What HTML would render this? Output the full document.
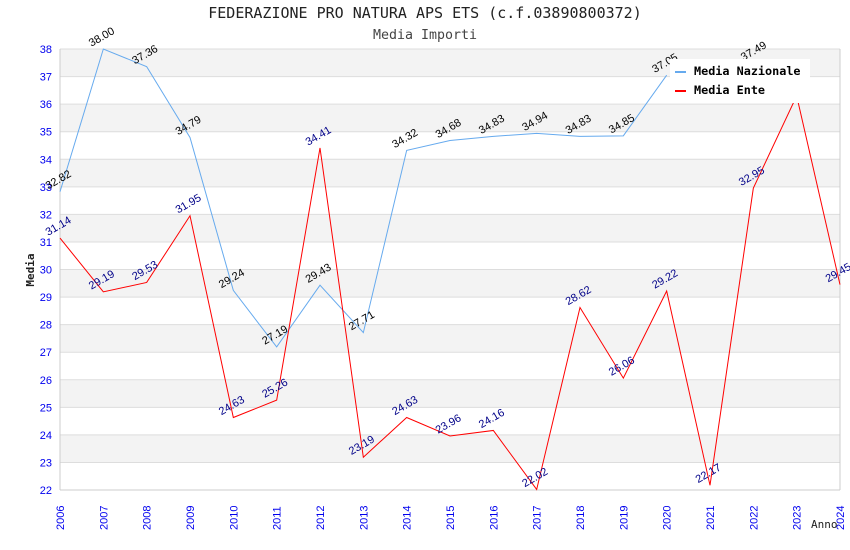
<!DOCTYPE html>
<html><head><meta charset="utf-8"><style>
html,body{margin:0;padding:0;background:#fff;}
svg{display:block;font-family:"DejaVu Sans Mono","Liberation Mono",monospace;}
</style></head><body>
<svg id="chart" width="850" height="550" xmlns="http://www.w3.org/2000/svg">
<text x="425" y="18" text-anchor="middle" font-size="15" fill="#222">FEDERAZIONE PRO NATURA APS ETS (c.f.03890800372)</text>
<text x="425" y="39" text-anchor="middle" font-size="13.3" fill="#444">Media Importi</text>
<g id="grid"></g><g id="lines"></g><g id="labels"></g>
<text transform="translate(34,270) rotate(-90)" text-anchor="middle" font-size="11" font-weight="bold" fill="#222">Media</text>
<text x="811" y="528" font-size="11" fill="#222">Anno</text>
<g>
<rect x="670" y="59" width="140" height="44" fill="#fff"/>
<line x1="675" y1="72" x2="686" y2="72" stroke="#66aaee" stroke-width="2"/>
<text x="694" y="75" font-size="11.8" font-weight="bold" fill="#000">Media Nazionale</text>
<line x1="675" y1="91" x2="686" y2="91" stroke="#ff0000" stroke-width="2"/>
<text x="694" y="94" font-size="11.8" font-weight="bold" fill="#000">Media Ente</text>
</g>
</svg>
<script>
const years=[2006,2007,2008,2009,2010,2011,2012,2013,2014,2015,2016,2017,2018,2019,2020,2021,2022,2023,2024];
const nazionale=[32.82,38.00,37.36,34.79,29.24,27.19,29.43,27.71,34.32,34.68,34.83,34.94,34.83,34.85,37.05,null,null,null,null];
const ente=[31.14,29.19,29.53,31.95,24.63,25.26,34.41,23.19,24.63,23.96,24.16,22.02,28.62,26.06,29.22,22.17,32.95,36.3,29.45];
const yTicks=[22,23,24,25,26,27,28,29,30,31,32,33,34,35,36,37,38];
const NS="http://www.w3.org/2000/svg";
const L=60,R=840,T=49,B=490,yMin=22,yMax=38;
const x=i=>L+(R-L)*i/(years.length-1);
const y=v=>B-(v-yMin)/(yMax-yMin)*(B-T);
function mk(tag,attrs,parent){const e=document.createElementNS(NS,tag);for(const k in attrs)e.setAttribute(k,attrs[k]);parent.appendChild(e);return e;}
const grid=document.getElementById('grid'),lines=document.getElementById('lines'),labels=document.getElementById('labels');
for(let i=0;i<yTicks.length-1;i++){
  const r=mk('rect',{x:L,y:y(yTicks[i+1]),width:R-L,height:y(yTicks[i])-y(yTicks[i+1]),fill:i%2?'#f3f3f3':'#fff'},grid);
  
  
}
yTicks.forEach(t=>{
  const l=mk('line',{x1:L,x2:R,y1:y(t),y2:y(t),stroke:'#dddddd'},grid);
  
  
  const tx=mk('text',{x:L-8,y:y(t)+4,'text-anchor':'end','font-size':'11',fill:'#0000ee','font-family':'Liberation Sans, sans-serif'},grid);
  tx.textContent=t;
  
  
});
mk('line',{x1:L,x2:L,y1:T,y2:B,stroke:'#cccccc'},grid);
mk('line',{x1:R,x2:R,y1:T,y2:B,stroke:'#cccccc'},grid);
mk('line',{x1:L,x2:R,y1:B,y2:B,stroke:'#cccccc'},grid);
years.forEach((yr,i)=>{
  const tx=mk('text',{transform:`translate(${x(i)+4},${B+40}) rotate(-90)`,'font-size':'11',fill:'#0000ee','font-family':'Liberation Sans, sans-serif'},grid);
  tx.textContent=yr;
  
  
});
function series(vals,color,lblColor,name){
  let d='';vals.forEach((v,i)=>{if(v==null)return;d+=(d?'L':'M')+x(i)+','+y(v);});
  const p=mk('path',{d,fill:'none',stroke:color,'stroke-width':'1'},lines);
  
  
  vals.forEach((v,i)=>{
    if(v==null)return;
    if(name==='ente'&&i===17)return;
    const t=mk('text',{transform:`translate(${x(i)},${y(v)-9}) rotate(-30)`,'text-anchor':'middle','font-size':'11',fill:lblColor,'font-family':'Liberation Sans, sans-serif'},labels);
    t.textContent=v.toFixed(2);
    
    
  });
}
series(nazionale,'#66aaee','#000','nazionale');
series(ente,'#ff0000','#000088','ente');
const ex=mk('text',{transform:`translate(${x(16)+2},${y(37.49)-9}) rotate(-30)`,'text-anchor':'middle','font-size':'11',fill:'#000','font-family':'Liberation Sans, sans-serif'},labels);
ex.textContent='37.49';


</script>
</body></html>
